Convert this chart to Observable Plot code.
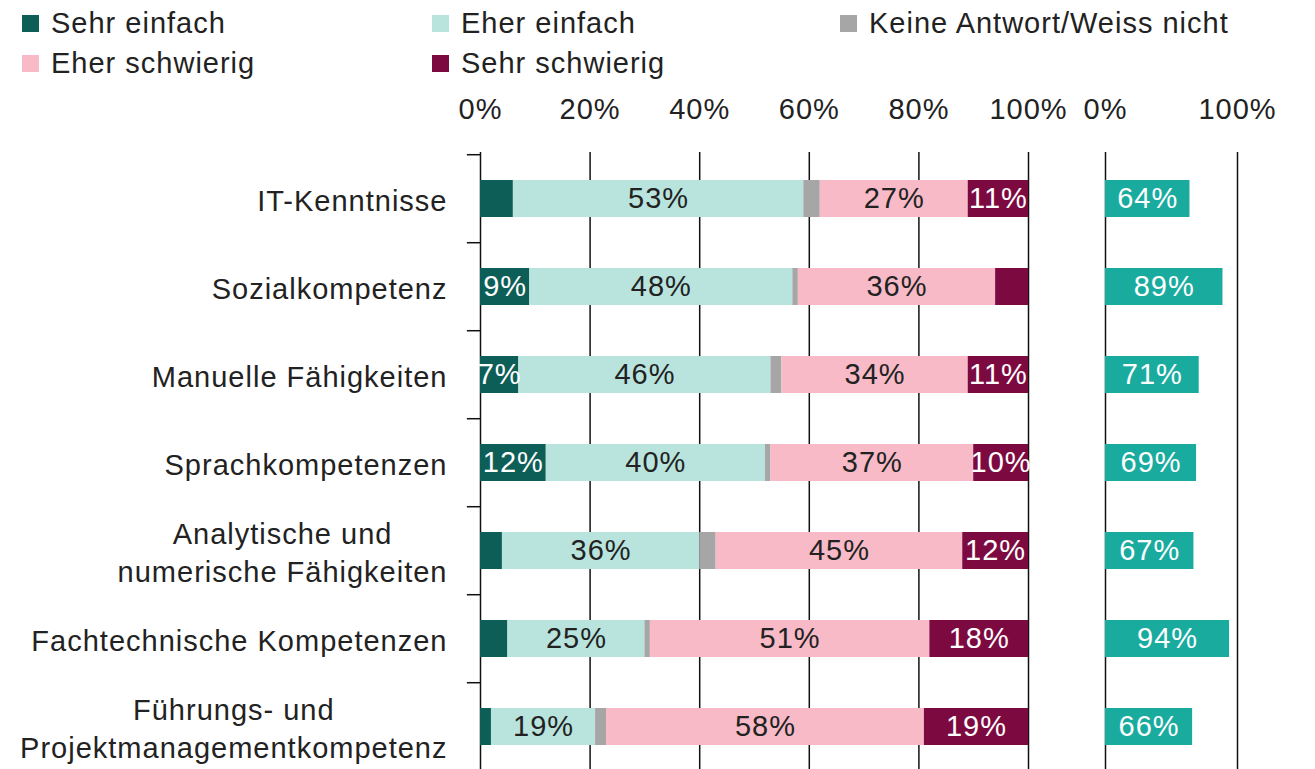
<!DOCTYPE html>
<html>
<head>
<meta charset="utf-8">
<script src="https://cdn.jsdelivr.net/npm/d3@7"></script>
<script src="https://cdn.jsdelivr.net/npm/@observablehq/plot@0.6"></script>
<style>
  html, body { margin: 0; padding: 0; background: #fff; overflow: hidden; }
  body { width: 1315px; height: 769px; position: relative; font-family: "Liberation Sans", Arial, sans-serif; color: #222; }
  .legend-item { position: absolute; display: flex; align-items: center; font-size: 29px; letter-spacing: 1px; white-space: nowrap; line-height: 1; }
  .legend-item .sw { width: 17px; height: 17px; margin-right: 12px; flex: none; }
  #main { position: absolute; left: 0; top: 83px; }
  #side { position: absolute; left: 1065px; top: 83px; }
</style>
</head>
<body>
<div id="legend"></div>
<div id="main"></div>
<div id="side"></div>
<script>
// ---- data ----
const skills = [
  "IT-Kenntnisse",
  "Sozialkompetenz",
  "Manuelle Fähigkeiten",
  "Sprachkompetenzen",
  "Analytische und\nnumerische Fähigkeiten",
  "Fachtechnische Kompetenzen",
  "Führungs- und\nProjektmanagementkompetenz"
];
const categories = ["Sehr einfach", "Eher einfach", "Keine Antwort/Weiss nicht", "Eher schwierig", "Sehr schwierig"];
const sehrEinfach   = [6, 9, 7, 12, 4, 5, 2];
const eherEinfach   = [53, 48, 46, 40, 36, 25, 19];
const keineAntwort  = [3, 1, 2, 1, 3, 1, 2];
const eherSchwierig = [27, 36, 34, 37, 45, 51, 58];
const sehrSchwierig = [11, 6, 11, 10, 12, 18, 19];
const rightValues   = [64, 89, 71, 69, 67, 94, 66];
const mainTicks = [0, 20, 40, 60, 80, 100];
const sideTicks = [0, 100];
const catColors = ["#0e5e58", "#b9e4de", "#a6a6a6", "#f7bac6", "#7c0a41"];
const sideColor = "#1aab9f";
const darkCats = ["Sehr einfach", "Sehr schwierig"];

// ---- build table ----
const series = [sehrEinfach, eherEinfach, keineAntwort, eherSchwierig, sehrSchwierig];
const rows = [];
skills.forEach((s, i) => categories.forEach((c, j) => rows.push({skill: s, cat: c, value: series[j][i]})));
const sideRows = skills.map((s, i) => ({skill: s, value: rightValues[i]}));

// ---- legend ----
const legendPos = [
  {cat: 0, left: 22, top: 9},
  {cat: 1, left: 432, top: 9},
  {cat: 2, left: 840, top: 9},
  {cat: 3, left: 22, top: 49},
  {cat: 4, left: 432, top: 49}
];
const leg = document.getElementById("legend");
legendPos.forEach(p => {
  const d = document.createElement("div");
  d.className = "legend-item";
  d.style.left = p.left + "px";
  d.style.top = p.top + "px";
  d.innerHTML = `<span class="sw" style="background:${catColors[p.cat]}"></span><span>${categories[p.cat]}</span>`;
  leg.appendChild(d);
});

// ---- layout ----
const H = 689, MT = 69, MB = 0;
const step = (H - MT - MB) / skills.length;
const yScale = {domain: skills, paddingInner: 0.58, paddingOuter: 0.29, axis: null};
const fontStyle = {fontFamily: "'Liberation Sans', Arial, sans-serif", fontSize: "29px", letterSpacing: "1px", color: "#222", background: "transparent", overflow: "visible"};

const stackOpts = {x: "value", y: "skill", z: "cat", order: categories};

const main = Plot.plot({
  width: 1065, height: H,
  marginLeft: 480, marginRight: 37, marginTop: MT, marginBottom: MB,
  style: fontStyle,
  x: {domain: [0, 100], axis: null},
  y: yScale,
  color: {domain: categories, range: catColors},
  marks: [
    Plot.ruleX(mainTicks, {stroke: "#111", strokeWidth: 1.5}),
    Plot.ruleY(skills, {y: d => d, x1: -2.4, x2: 0, dy: -step / 2, stroke: "#111", strokeWidth: 1.5}),
    Plot.barX(rows, Plot.stackX({...stackOpts, fill: "cat"})),
    Plot.textX(rows, Plot.stackX({...stackOpts, text: d => (darkCats.includes(d.cat) && d.value >= 7) ? d.value + "%" : "", fill: "white", fontSize: 29})),
    Plot.textX(rows, Plot.stackX({...stackOpts, text: d => (!darkCats.includes(d.cat) && d.value >= 7) ? d.value + "%" : "", fill: "#222", fontSize: 29})),
    Plot.axisX(mainTicks, {anchor: "top", label: null, tickSize: 0, tickPadding: 34, tickFormat: d => d + "%", fontSize: 29, fill: "#222"}),
    Plot.axisY({anchor: "left", label: null, tickSize: 0, tickPadding: 33, fontSize: 29, lineHeight: 1.3, fill: "#222"})
  ]
});
document.getElementById("main").appendChild(main);

// center multi-line y labels
main.querySelectorAll('g[aria-label="y-axis tick label"] text').forEach(t => {
  const spans = t.querySelectorAll("tspan");
  if (spans.length > 1) {
    const w = Math.max(...Array.from(spans, s => s.getComputedTextLength()));
    t.setAttribute("text-anchor", "middle");
    spans.forEach(s => s.setAttribute("x", -w / 2));
  }
});

const side = Plot.plot({
  width: 250, height: H,
  marginLeft: 40, marginRight: 78, marginTop: MT, marginBottom: MB,
  style: fontStyle,
  x: {domain: [0, 100], axis: null},
  y: yScale,
  marks: [
    Plot.ruleX(sideTicks, {stroke: "#111", strokeWidth: 1.5}),
    Plot.barX(sideRows, {x: "value", y: "skill", fill: sideColor}),
    Plot.text(sideRows, {x: d => d.value / 2, y: "skill", text: d => d.value + "%", fill: "white", fontSize: 29}),
    Plot.axisX(sideTicks, {anchor: "top", label: null, tickSize: 0, tickPadding: 34, tickFormat: d => d + "%", fontSize: 29, fill: "#222"})
  ]
});
document.getElementById("side").appendChild(side);
</script>
</body>
</html>
